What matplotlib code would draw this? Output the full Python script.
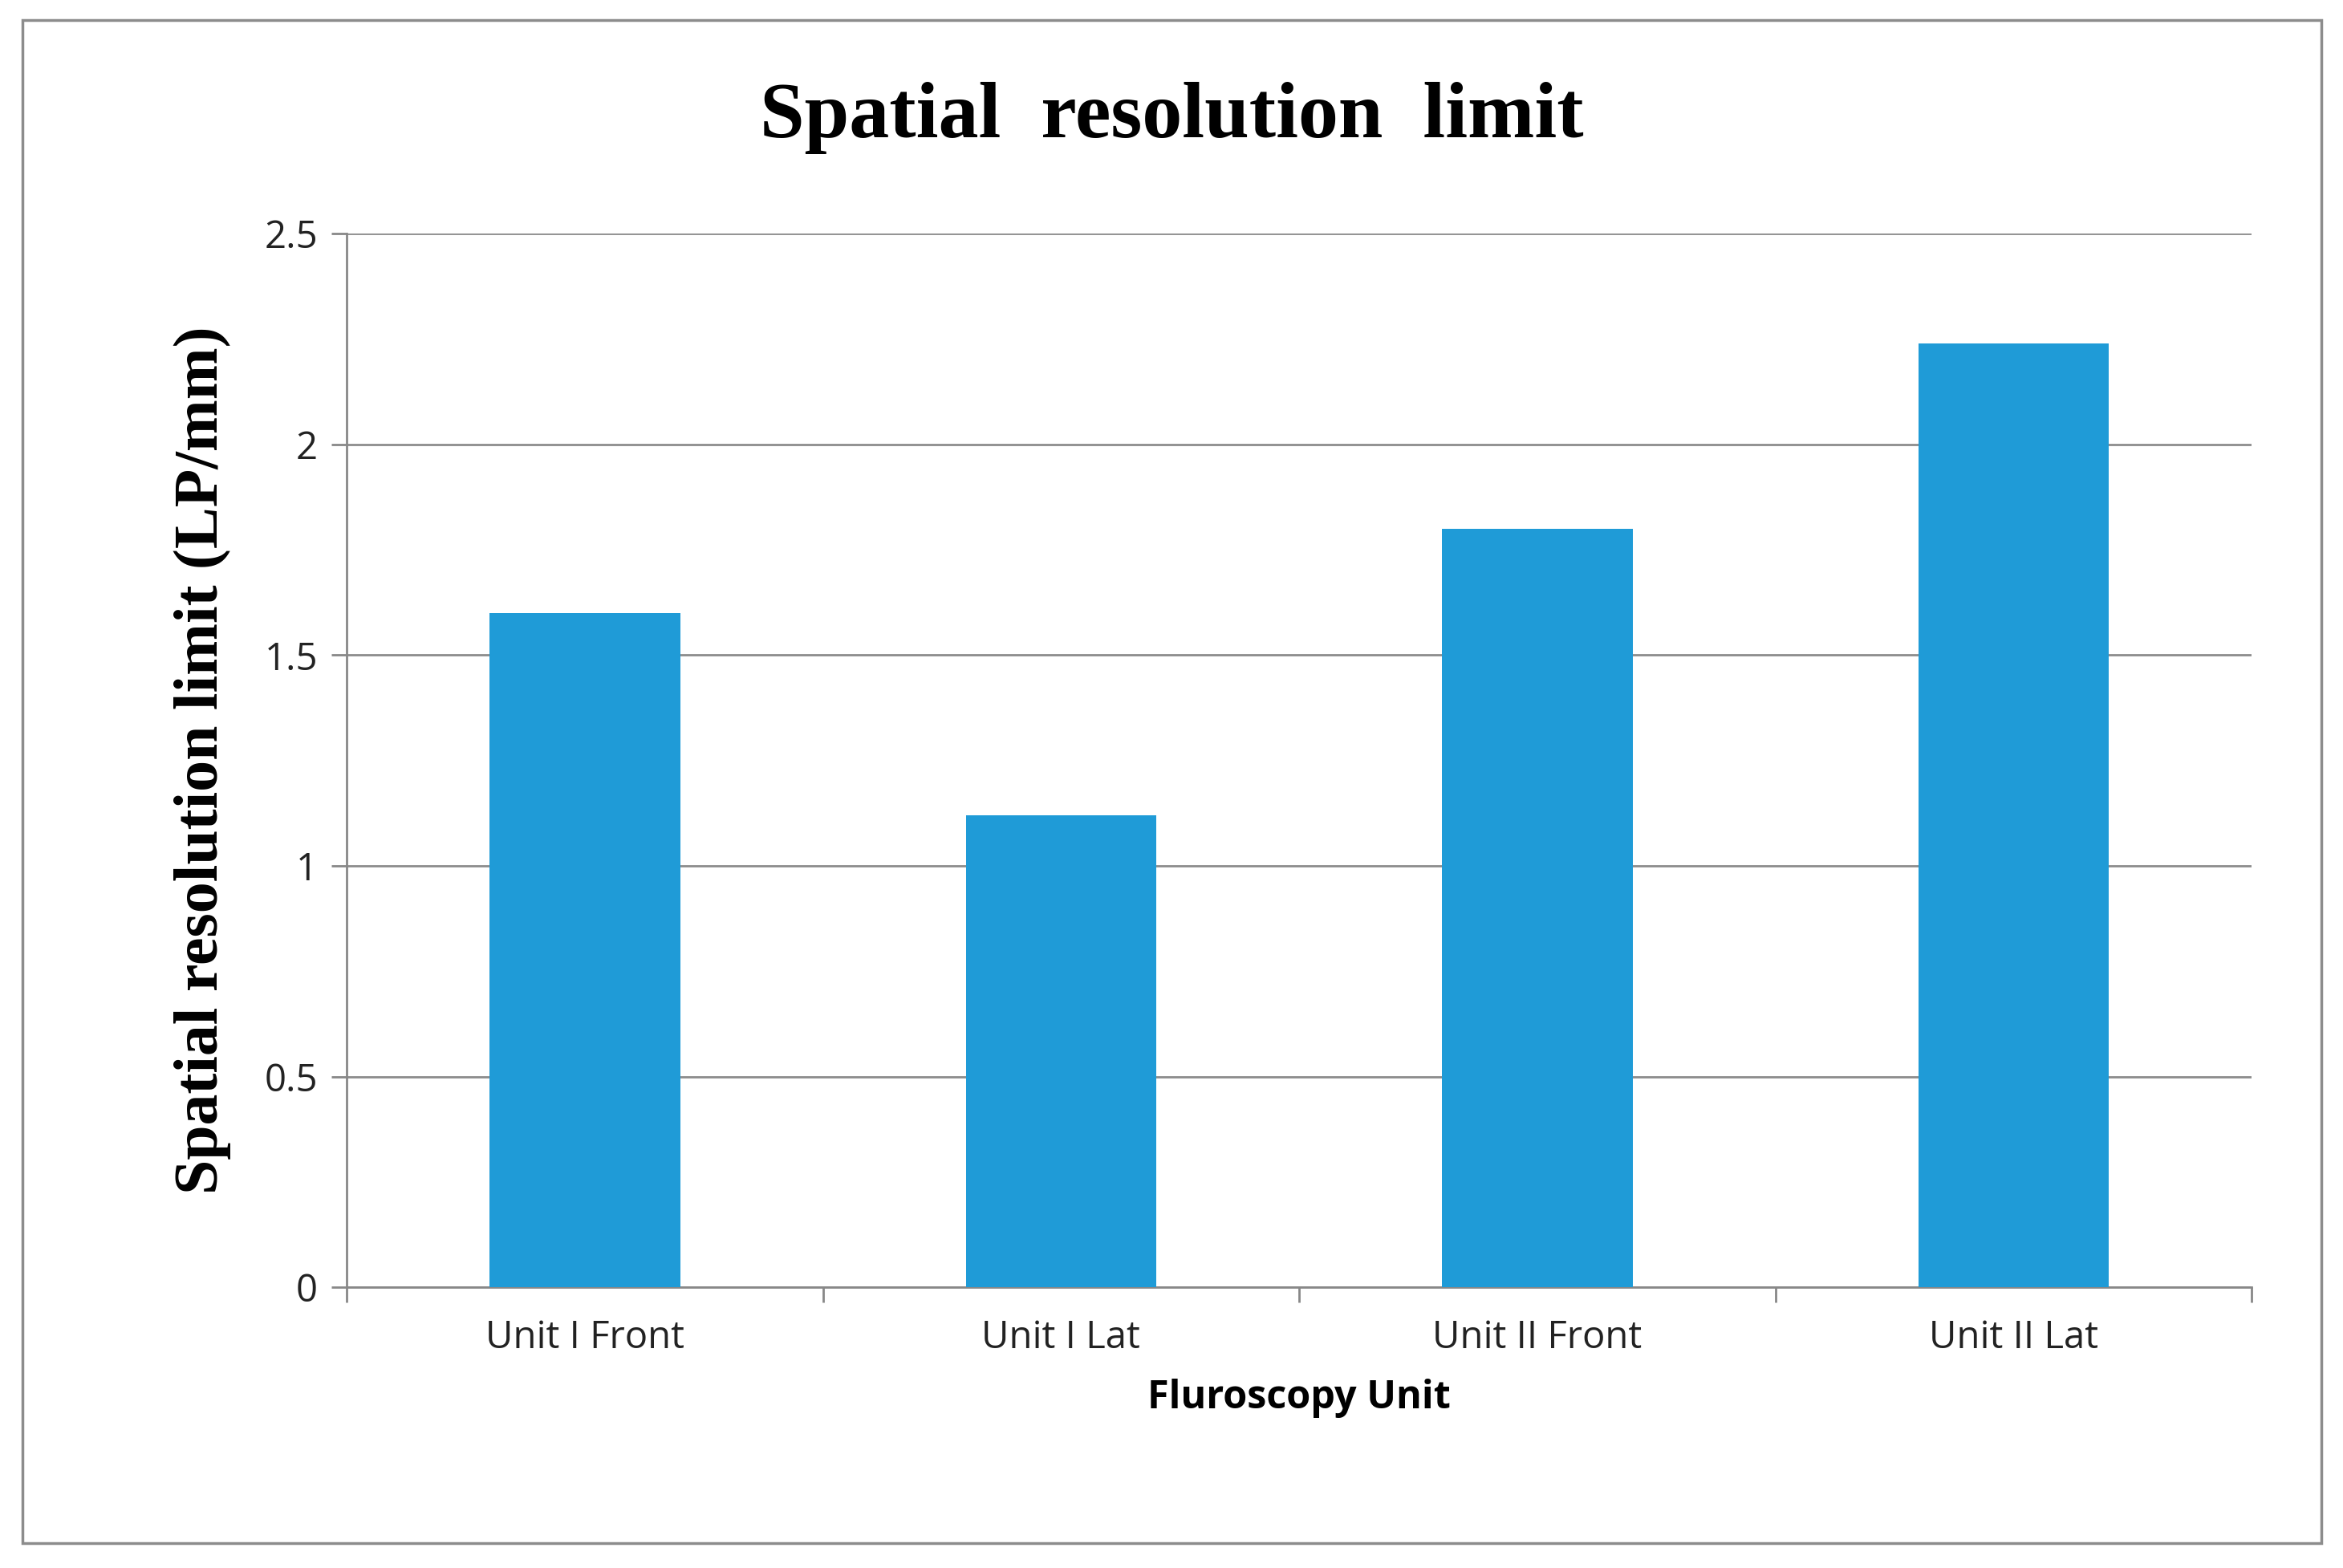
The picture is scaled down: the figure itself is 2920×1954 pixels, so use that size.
import matplotlib.pyplot as plt
from matplotlib.patches import Rectangle
import numpy as np

units = ['Unit I Front', 'Unit I Lat', 'Unit II Front', 'Unit II Lat']
limits = [1.6, 1.12, 1.8, 2.24]
yticks = [0, 0.5, 1, 1.5, 2, 2.5]

fig = plt.figure(figsize=(29.2, 19.54), dpi=100)
ax = fig.add_axes([0.148, 0.179, 0.813, 0.672])

x = np.arange(len(units))
ax.bar(x, limits, width=0.4, color='#1f9bd7', zorder=3)

ax.set_xlim(-0.5, len(units) - 0.5)
ax.set_ylim(0, 2.5)
ax.set_yticks(yticks)
ax.set_yticklabels(['0', '0.5', '1', '1.5', '2', '2.5'], fontsize=34, family='Open Sans', color='#222222')
ax.set_xticks(x)
ax.set_xticklabels(units, fontsize=34, family='Open Sans', color='#222222')
ax.set_xticks(np.arange(-0.5, len(units)), minor=True)
ax.tick_params(axis='x', which='major', length=0, pad=28)
ax.tick_params(axis='x', which='minor', length=14, width=2, color='#888888')
ax.tick_params(axis='y', length=14, width=2, color='#888888', pad=12)
ax.yaxis.grid(True, color='#8c8c8c', linewidth=2, zorder=0)

for s in ['top', 'right']:
    ax.spines[s].set_visible(False)
for s in ['left', 'bottom']:
    ax.spines[s].set_color('#888888')
    ax.spines[s].set_linewidth(2)

ax.set_xlabel('Fluroscopy Unit', fontsize=35, family='Open Sans', fontweight='bold', labelpad=20)
ax.set_ylabel('Spatial resolution limit (LP/mm)', fontsize=56, family='Liberation Serif',
              fontweight='bold', labelpad=30)
fig.text(0.5, 0.925, 'Spatial  resolution  limit', ha='center', va='center', fontsize=72,
         family='Liberation Serif', fontweight='bold')

fig.patches.append(Rectangle((0.0096, 0.016), 0.981, 0.971, transform=fig.transFigure,
                             fill=False, edgecolor='#8c8c8c', linewidth=2.5))

fig.savefig('out.png', dpi=100)
